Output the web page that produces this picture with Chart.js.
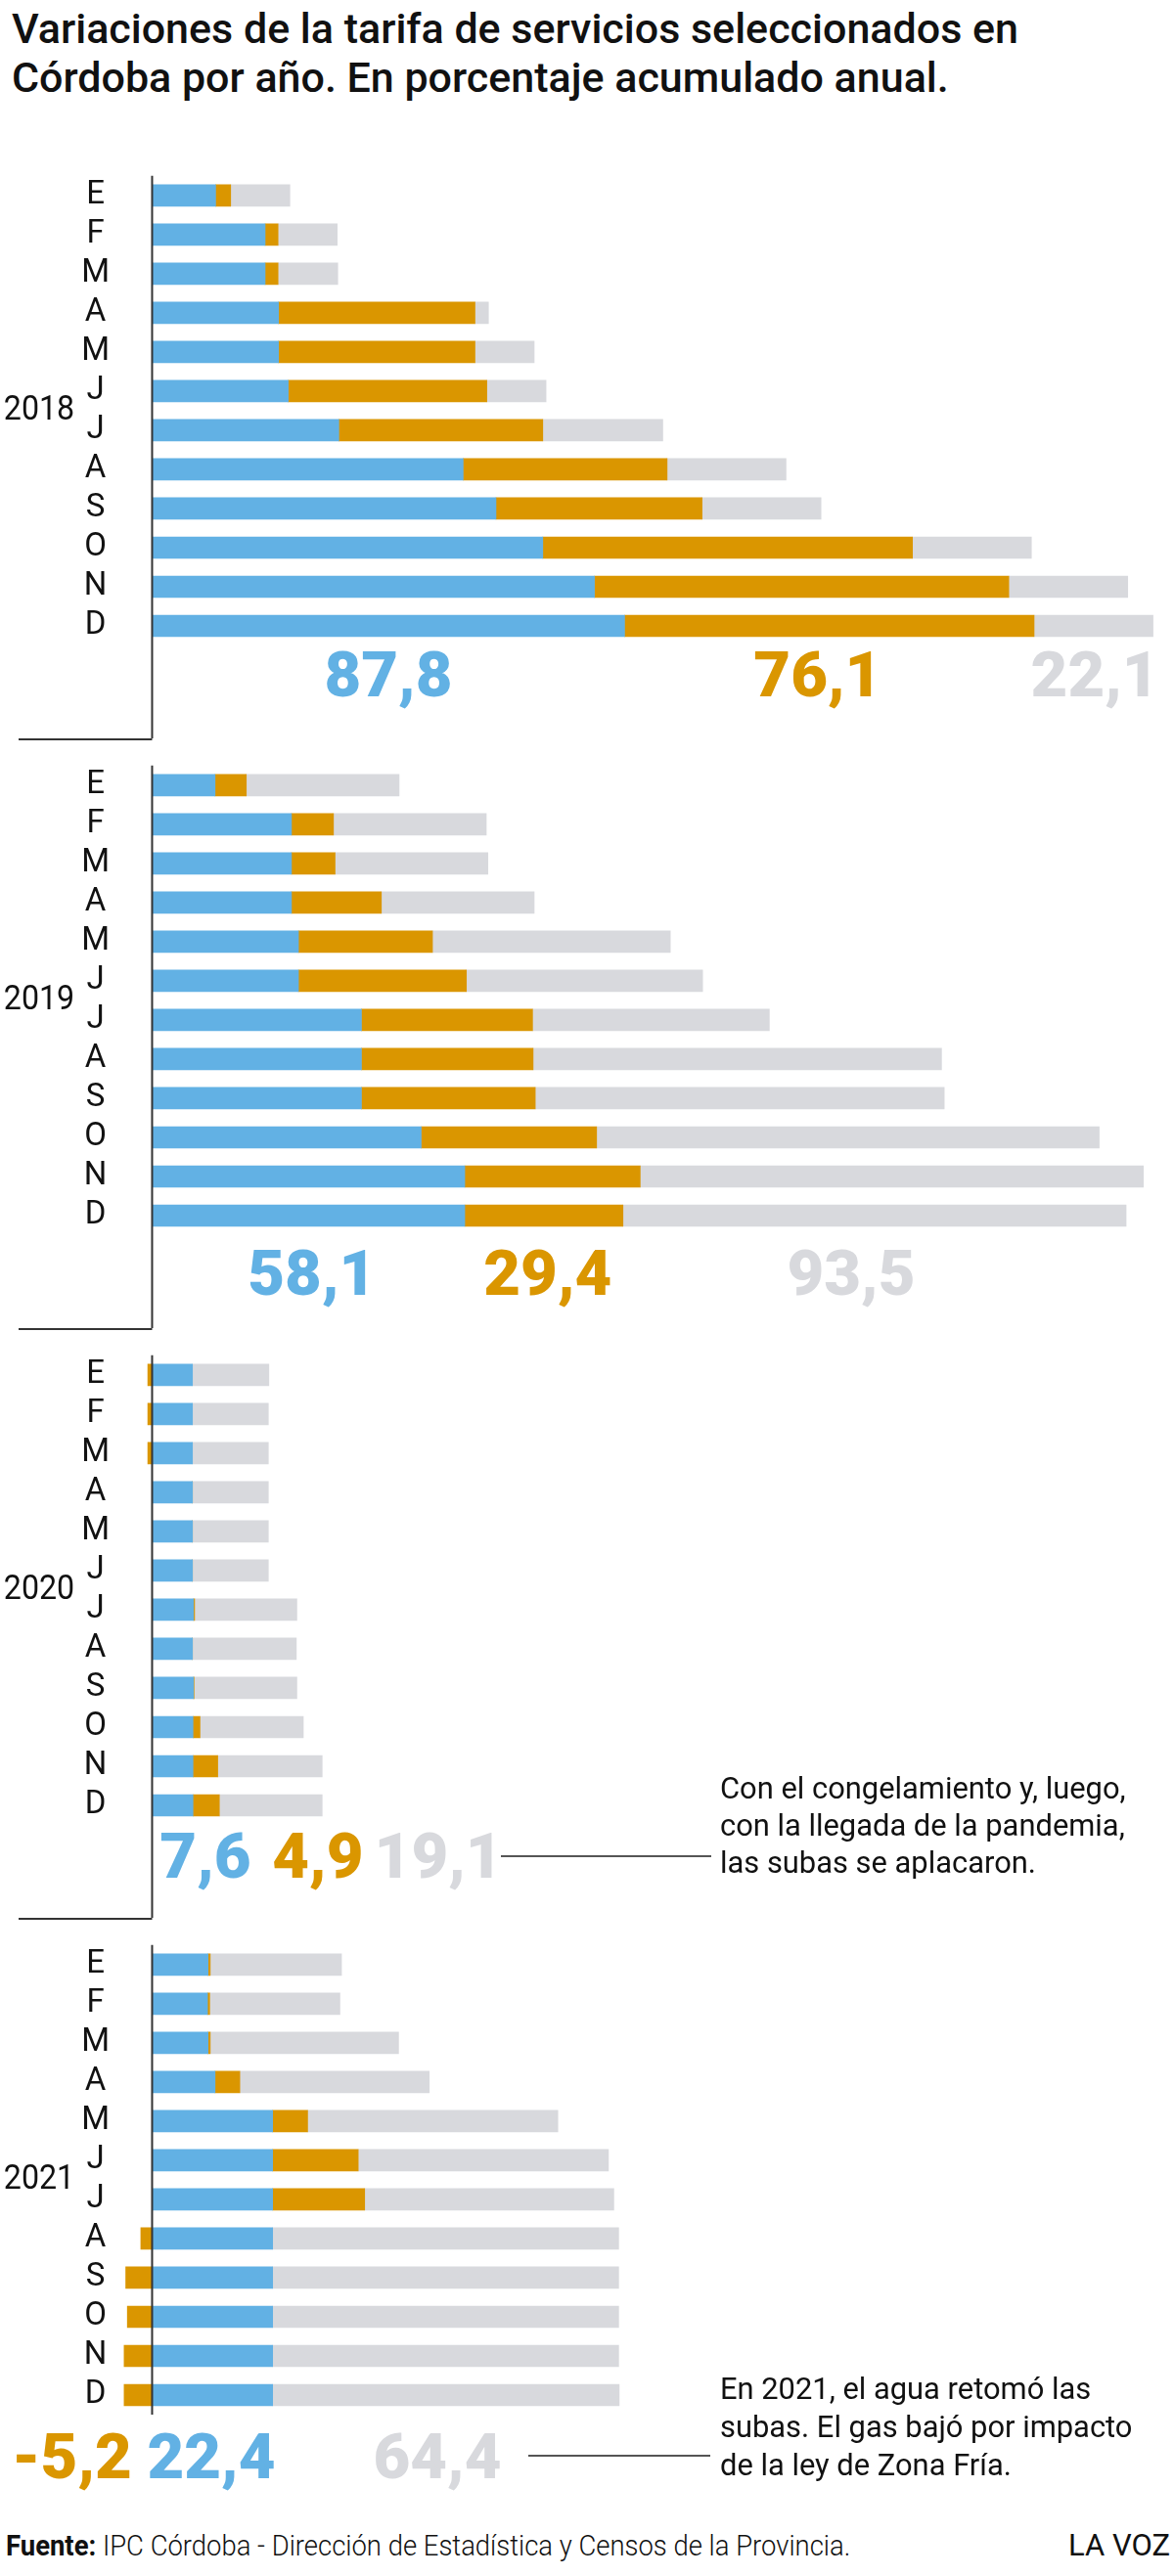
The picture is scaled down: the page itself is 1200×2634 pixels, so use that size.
<!DOCTYPE html>
<html>
<head>
<meta charset="utf-8">
<script src="https://cdn.jsdelivr.net/npm/chart.js@4.4.1/dist/chart.umd.min.js"></script>
<style>
  body { margin: 0; background: #fff; }
  #page { position: relative; width: 1200px; height: 2634px; overflow: hidden; font-family: Roboto, sans-serif; color: #111; }
  .panel { position: absolute; left: 0; width: 1200px; height: 603px; }
  .title { position: absolute; left: 12px; top: 4px; font-size: 43px; line-height: 50px; font-weight: 500; white-space: nowrap; }
  .note { position: absolute; left: 736px; font-size: 32px; white-space: nowrap; transform: scaleX(0.965); transform-origin: left top; }
  .rule { position: absolute; height: 2px; background: #555; }
  .foot { position: absolute; left: 6px; top: 2586px; font-size: 30px; line-height: 34px; white-space: nowrap; transform: scaleX(0.915); transform-origin: left top; font-weight: 300; }
  .foot b { font-weight: 700; }
  .brand { position: absolute; right: 4px; top: 2586px; font-size: 31px; line-height: 34px; }
</style>
</head>
<body>
<div id="page">
  <div class="title">Variaciones de la tarifa de servicios seleccionados en<br>Córdoba por año. En porcentaje acumulado anual.</div>

  <div class="panel" style="top:152px"><canvas id="c2018" width="1200" height="603"></canvas></div>
  <div class="panel" style="top:755px"><canvas id="c2019" width="1200" height="603"></canvas></div>
  <div class="panel" style="top:1358px"><canvas id="c2020" width="1200" height="603"></canvas></div>
  <div class="panel" style="top:1961px"><canvas id="c2021" width="1200" height="603"></canvas></div>

  <div class="note" style="top:1809px;line-height:38px">Con el congelamiento y, luego,<br>con la llegada de la pandemia,<br>las subas se aplacaron.</div>
  <div class="rule" style="left:512px;top:1897px;width:215px"></div>

  <div class="note" style="top:2423px;line-height:39px">En 2021, el agua retomó las<br>subas. El gas bajó por impacto<br>de la ley de Zona Fría.</div>
  <div class="rule" style="left:540px;top:2510px;width:186px"></div>

  <div class="foot"><b>Fuente:</b> IPC Córdoba - Dirección de Estadística y Censos de la Provincia.</div>
  <div class="brand">LA VOZ</div>
</div>

<script>
// months
var months = ['E', 'F', 'M', 'A', 'M', 'J', 'J', 'A', 'S', 'O', 'N', 'D'];

// accumulated % per month: agua (blue), gas (orange), luz (grey)
var agua2018 = [11.8, 21.0, 21.0, 23.5, 23.5, 25.3, 34.7, 57.8, 63.9, 72.6, 82.2, 87.8];
var gas2018  = [2.8, 2.4, 2.4, 36.5, 36.5, 36.9, 37.9, 37.9, 38.3, 68.7, 77.0, 76.1];
var luz2018  = [11.0, 11.0, 11.1, 2.5, 11.0, 11.0, 22.3, 22.1, 22.1, 22.1, 22.1, 22.1];

var agua2019 = [11.7, 25.9, 25.9, 25.9, 27.2, 27.2, 38.9, 38.9, 38.9, 50.0, 58.1, 58.1];
var gas2019  = [5.8, 7.8, 8.1, 16.7, 24.9, 31.2, 31.8, 31.9, 32.3, 32.6, 32.6, 29.4];
var luz2019  = [28.4, 28.4, 28.4, 28.4, 44.2, 43.9, 44.0, 75.9, 76.0, 93.4, 93.5, 93.5];

var agua2020 = [7.5, 7.5, 7.5, 7.5, 7.5, 7.5, 7.7, 7.5, 7.7, 7.6, 7.6, 7.6];
var gas2020  = [-0.8, -0.8, -0.8, 0, 0, 0, 0.2, 0, 0.1, 1.3, 4.6, 4.9];
var luz2020  = [14.2, 14.1, 14.1, 14.1, 14.1, 14.1, 19.0, 19.3, 19.1, 19.2, 19.4, 19.1];

var agua2021 = [10.4, 10.3, 10.4, 11.7, 22.4, 22.4, 22.4, 22.4, 22.4, 22.4, 22.4, 22.4];
var gas2021  = [0.4, 0.4, 0.4, 4.6, 6.5, 15.9, 17.1, -2.1, -4.9, -4.6, -5.2, -5.2];
var luz2021  = [24.4, 24.2, 35.0, 35.2, 46.5, 46.5, 46.3, 64.3, 64.3, 64.3, 64.3, 64.4];

var BLUE = '#62b1e4';
var ORANGE = '#da9600';
var GREY = '#d8d9dd';

Chart.defaults.font.family = 'Roboto, sans-serif';

// axis line, separators, year label and the yearly totals under each block
var panelDeco = {
  id: 'panelDeco',
  afterDraw: function(chart, args, opts) {
    var ctx = chart.ctx;
    var area = chart.chartArea;
    var x0 = chart.scales.x.getPixelForValue(0);
    ctx.save();

    ctx.strokeStyle = '#333';
    ctx.lineWidth = 2;
    ctx.beginPath();
    ctx.moveTo(x0, area.top);
    ctx.lineTo(x0, opts.last ? area.bottom : chart.height);
    if (opts.separator) {
      ctx.moveTo(19, 1);
      ctx.lineTo(x0, 1);
    }
    ctx.stroke();

    // year
    ctx.fillStyle = '#111';
    ctx.font = '35px Roboto, sans-serif';
    ctx.textAlign = 'center';
    ctx.textBaseline = 'middle';
    ctx.save();
    ctx.translate(40, (area.top + area.bottom) / 2);
    ctx.scale(0.92, 1);
    ctx.fillText(opts.year, 0, 0);
    ctx.restore();

    // totals = december value of each series
    ctx.font = '900 64px Roboto, sans-serif';
    ctx.textBaseline = 'alphabetic';
    chart.data.datasets.forEach(function(ds, i) {
      var v = ds.data[ds.data.length - 1];
      var txt = v.toFixed(1).replace('.', ',');
      ctx.save();
      ctx.translate(chart.scales.x.getPixelForValue(opts.labelAt[i]), opts.labelY);
      ctx.scale(1.02, 1);
      ctx.fillStyle = ds.backgroundColor;
      ctx.fillText(txt, 0, 0);
      ctx.restore();
    });

    ctx.restore();
  }
};

function createPanel(id, year, agua, gas, luz, deco)
{
  var ctx = document.getElementById(id).getContext('2d');
  deco.year = year;
  return new Chart(ctx, {
    type: 'bar',
    data: {
      labels: months,
      datasets: [
        { label: 'Agua', data: agua, backgroundColor: BLUE },
        { label: 'Gas', data: gas, backgroundColor: ORANGE },
        { label: 'Luz', data: luz, backgroundColor: GREY }
      ]
    },
    options: {
      indexAxis: 'y',
      responsive: false,
      animation: false,
      layout: { padding: { top: 0, bottom: 95, left: 0, right: 0 } },
      datasets: { bar: { barThickness: 22 } },
      plugins: {
        legend: { display: false },
        tooltip: { enabled: false },
        panelDeco: deco
      },
      scales: {
        x: { stacked: true, min: -6.45, max: 189.9, display: false },
        y: {
          stacked: true,
          grid: { display: false, drawTicks: false },
          border: { display: false },
          ticks: { color: '#111', font: { size: 33 }, padding: 8, crossAlign: 'center', autoSkip: false },
          afterFit: function(scale) { scale.width = 120; }
        }
      }
    },
    plugins: [panelDeco]
  });
}

createPanel('c2018', '2018', agua2018, gas2018, luz2018, { labelAt: [43.9, 123.7, 175.2], labelY: 560, separator: false, last: false });
createPanel('c2019', '2019', agua2019, gas2019, luz2019, { labelAt: [29.7, 73.5, 129.9], labelY: 569, separator: true, last: false });
createPanel('c2020', '2020', agua2020, gas2020, luz2020, { labelAt: [9.9, 30.8, 53.2], labelY: 562, separator: true, last: false });
createPanel('c2021', '2021', agua2021, gas2021, luz2021, { labelAt: [11.0, -14.9, 53.0], labelY: 573, separator: true, last: true });
</script>
</body>
</html>
